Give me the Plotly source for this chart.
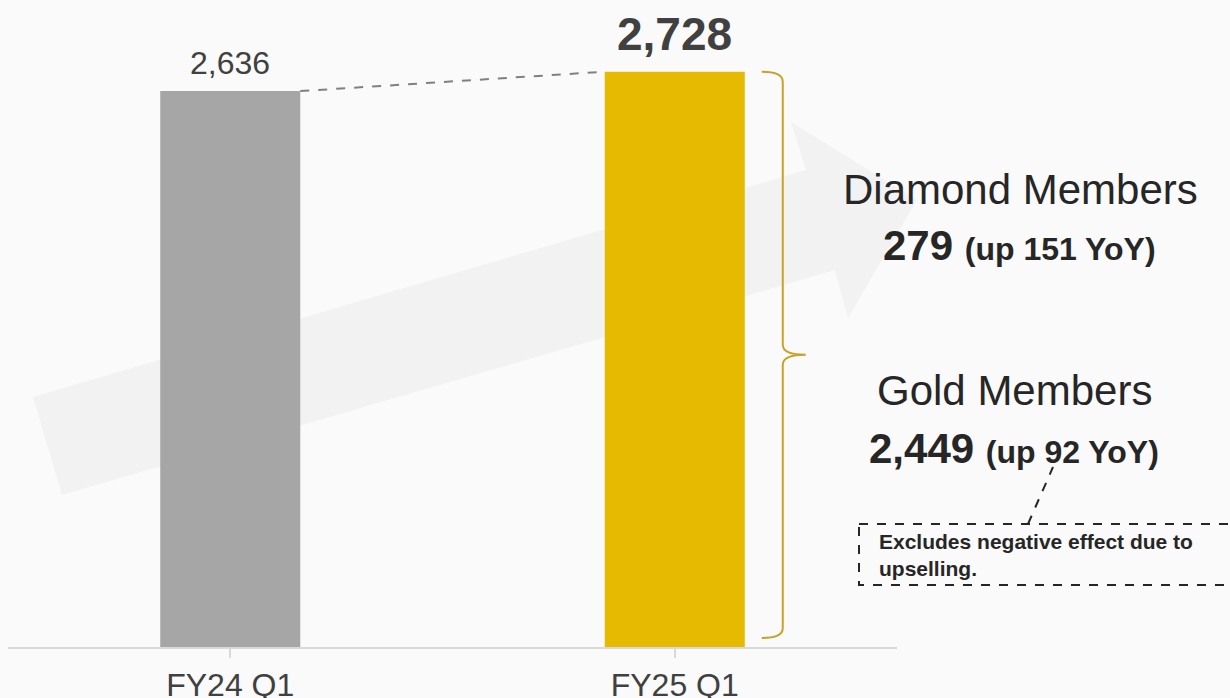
import plotly.graph_objects as go

# values
quarters = ["FY24 Q1", "FY25 Q1"]
members = [2636, 2728]
member_labels = ["2,636", "2,728"]
diamond = 279
diamond_up = 151
gold = 2449
gold_up = 92
note = "Excludes negative effect due to<br>upselling."

W, H = 1230, 698
ML, MR, MT, MB = 8, 333, 0, 51
BAR_W = 0.315
Y_TOP = 3068
BG = "#fafafa"
TXT = "#262626"
BRACE = "#c9a22a"


def px(x):
    # page pixel -> paper x (paper spans the plot area)
    return (x - ML) / (W - ML - MR)


def py(y):
    return 1 - (y - MT) / (H - MT - MB)


def xunits(pixels):
    # pixels to category units on the x axis
    return pixels * 2 / (W - ML - MR)


def yunits(pixels):
    return pixels * Y_TOP / (H - MT - MB)


def label(x, y, text, size, **kw):
    fig.add_annotation(x=px(x), y=py(y), xref="paper", yref="paper",
                       xanchor=kw.pop("xanchor", "center"), yanchor="middle",
                       text=text, showarrow=False,
                       font=dict(size=size, color=TXT), **kw)


fig = go.Figure(go.Bar(
    x=[0, 1],
    y=members,
    width=BAR_W,
    marker=dict(color=["#a6a6a6", "#e5ba00"], line=dict(width=0)),
    hoverinfo="skip",
))

# background arrow (decoration, drawn in pixel space)
arrow = [(33, 397), (806, 170), (791, 122), (917, 200), (848, 318), (835, 270), (62, 495)]
path = "M " + " L ".join(f"{px(a)},{py(b)}" for a, b in arrow) + " Z"
fig.add_shape(type="path", path=path, xref="paper", yref="paper",
              fillcolor="#f2f2f2", line=dict(width=0), layer="below")

# dashed connector between bar tops
fig.add_shape(type="line", xref="x", yref="y",
              x0=BAR_W / 2, y0=members[0], x1=1 - BAR_W / 2, y1=members[1],
              line=dict(color="#808080", width=2, dash="dash"))

# curly brace to the right of the FY25 bar
xl = 1 + BAR_W / 2 + xunits(17)
xv = xl + xunits(21)
xt = xv + xunits(23)
top = members[1]
bot = yunits(9)
mid = (top + bot) / 2
r = yunits(10)
brace = (f"M {xl},{top} Q {xv},{top} {xv},{top - r} "
         f"L {xv},{mid + r} Q {xv},{mid} {xt},{mid} "
         f"Q {xv},{mid} {xv},{mid - r} "
         f"L {xv},{bot + r} Q {xv},{bot} {xl},{bot}")
fig.add_shape(type="path", path=brace, xref="x", yref="y",
              line=dict(color=BRACE, width=2))

# bar value labels
fig.add_annotation(x=0, y=members[0], text=member_labels[0], showarrow=False,
                   yanchor="bottom", yshift=8,
                   font=dict(size=32, color="#404040"))
fig.add_annotation(x=1, y=members[1], text="<b>" + member_labels[1] + "</b>",
                   showarrow=False, yanchor="bottom", yshift=10,
                   font=dict(size=46, color="#404040"))

# member breakdown
label(1020, 189, "Diamond Members", 42)
label(1019, 246, f"<b>{diamond:,} <span style='font-size:32px'>(up {diamond_up} YoY)</span></b>", 42)
label(1014, 390, "Gold Members", 42)
label(1014, 448, f"<b>{gold:,} <span style='font-size:32px'>(up {gold_up} YoY)</span></b>", 42)

# footnote callout
fig.add_shape(type="rect", xref="paper", yref="paper",
              x0=px(859), x1=px(1245), y0=py(524), y1=py(585),
              line=dict(color=TXT, width=2, dash="dash"))
fig.add_shape(type="line", xref="paper", yref="paper",
              x0=px(1028), y0=py(524), x1=px(1053), y1=py(467),
              line=dict(color=TXT, width=2, dash="dash"))
label(877, 555, "<b>" + note + "</b>", 21, xanchor="left", align="left")

fig.update_layout(
    width=W, height=H,
    margin=dict(l=ML, r=MR, t=MT, b=MB, autoexpand=False),
    paper_bgcolor=BG, plot_bgcolor="rgba(0,0,0,0)",
    font=dict(family="Liberation Sans, Arial, sans-serif"),
    showlegend=False,
    xaxis=dict(range=[-0.5, 1.5], tickmode="array", tickvals=[0, 1],
               ticktext=quarters, showline=True, linecolor="#d9d9d9",
               linewidth=2, ticks="outside", ticklen=9, tickcolor="#d9d9d9",
               tickwidth=2, tickson="boundaries", showgrid=False, zeroline=False,
               automargin=False, tickfont=dict(size=32, color="#404040")),
    yaxis=dict(range=[0, Y_TOP], visible=False, showgrid=False, zeroline=False),
)

fig.write_html("out.html", config=dict(displayModeBar=False),
               post_script="document.body.style.margin='0';")
